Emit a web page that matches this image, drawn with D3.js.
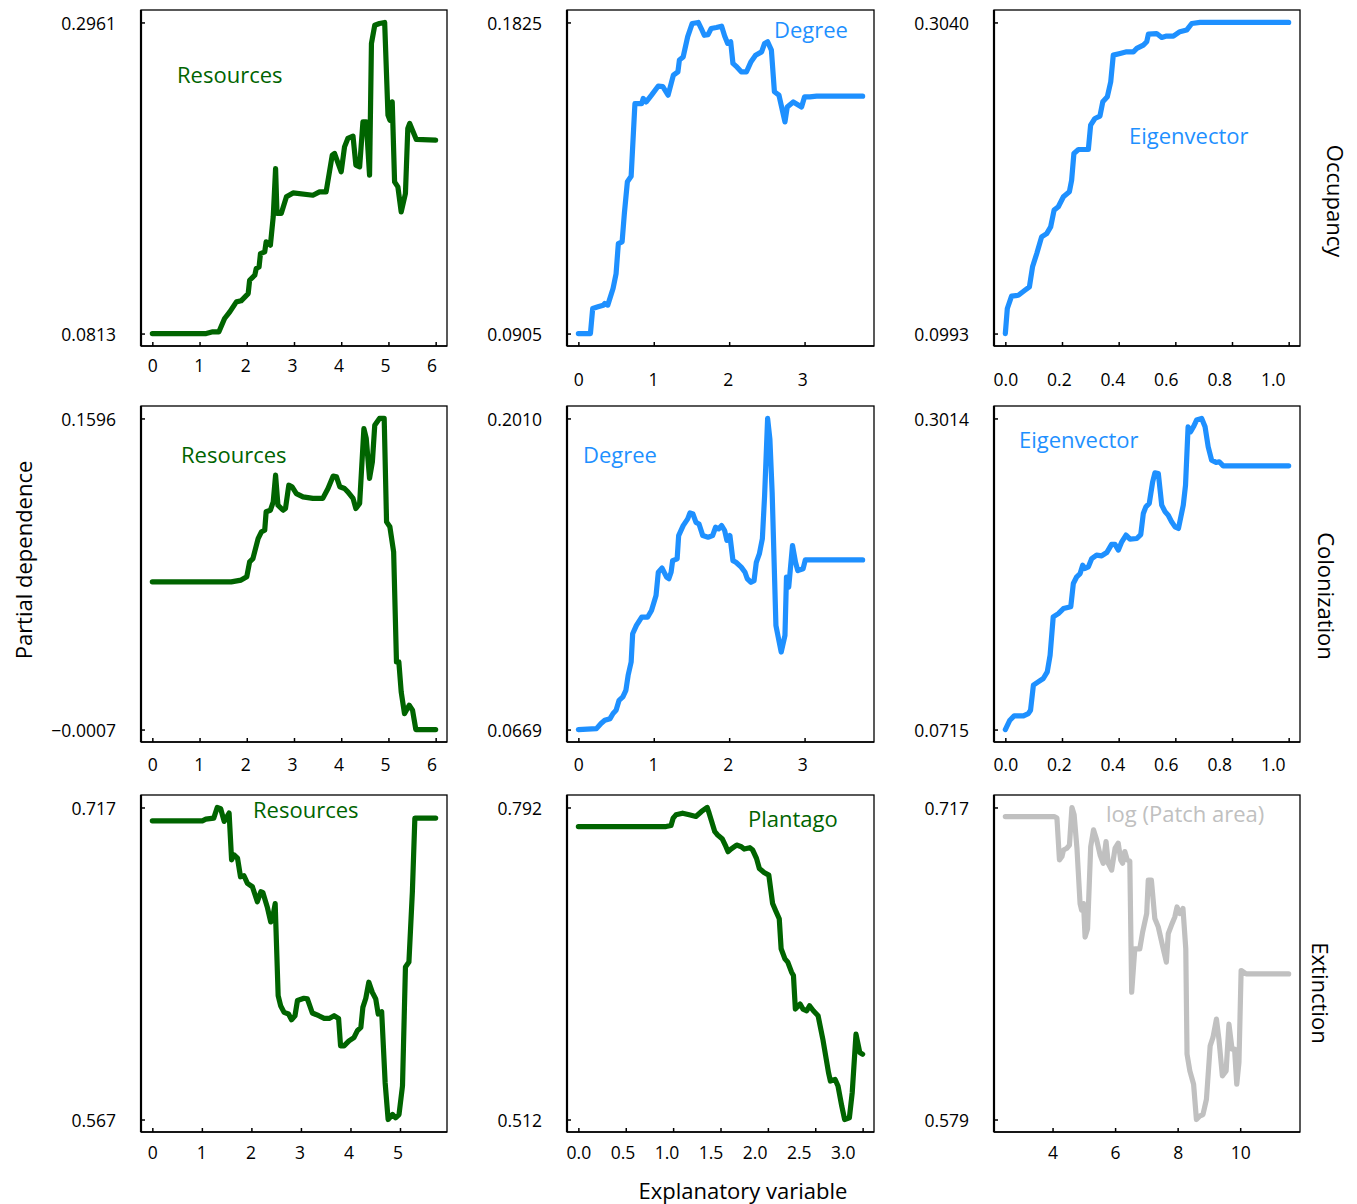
<!DOCTYPE html>
<html>
<head>
<meta charset="utf-8">
<script src="https://cdn.jsdelivr.net/npm/d3@7"></script>
<style>
  body { margin: 0; background: #fff; }
  svg { font-family: "Open Sans", sans-serif; }
</style>
</head>
<body>
<svg id="chart" width="1357" height="1204"></svg>
<script>
const green = "#006400", blue = "#1E90FF", grey = "#C0C0C0";

// --- Occupancy row ---
const occResources = [[0,0.0813],[1.14,0.0813],[1.28,0.0825],[1.41,0.0825],[1.53,0.0917],[1.64,0.0963],[1.78,0.1032],[1.88,0.1039],[2.03,0.1089],[2.06,0.1181],[2.17,0.1216],[2.20,0.1262],[2.26,0.1273],[2.29,0.1365],[2.38,0.1377],[2.41,0.1446],[2.50,0.1423],[2.56,0.1619],[2.61,0.1952],[2.64,0.1642],[2.73,0.1642],[2.84,0.1757],[2.98,0.1784],[3.40,0.1768],[3.54,0.1791],[3.68,0.1791],[3.81,0.2045],[3.86,0.2056],[4.00,0.1930],[4.07,0.2102],[4.14,0.2160],[4.25,0.2176],[4.31,0.1976],[4.39,0.1964],[4.46,0.2275],[4.53,0.2275],[4.60,0.1906],[4.64,0.2816],[4.71,0.2942],[4.81,0.2954],[4.92,0.2961],[4.99,0.2321],[5.03,0.2286],[5.08,0.2413],[5.13,0.1860],[5.20,0.1826],[5.27,0.1653],[5.36,0.1780],[5.41,0.2229],[5.45,0.2263],[5.59,0.2153],[6.00,0.2148]];
const occDegree = [[0,0.0905],[0.16,0.0905],[0.19,0.0979],[0.26,0.0984],[0.33,0.0989],[0.35,0.0994],[0.39,0.0989],[0.46,0.1038],[0.50,0.1082],[0.53,0.1171],[0.58,0.1176],[0.61,0.1260],[0.65,0.1354],[0.70,0.1370],[0.75,0.1585],[0.84,0.1585],[0.86,0.1600],[0.90,0.1590],[0.97,0.1610],[1.06,0.1637],[1.12,0.1635],[1.19,0.1610],[1.26,0.1669],[1.32,0.1679],[1.34,0.1714],[1.39,0.1723],[1.45,0.1783],[1.51,0.1822],[1.59,0.1825],[1.63,0.1807],[1.67,0.1787],[1.72,0.1789],[1.76,0.1807],[1.83,0.1810],[1.90,0.1814],[1.94,0.1785],[1.98,0.1763],[2.02,0.1768],[2.05,0.1704],[2.09,0.1696],[2.16,0.1679],[2.23,0.1679],[2.29,0.1709],[2.35,0.1728],[2.43,0.1738],[2.47,0.1763],[2.51,0.1768],[2.56,0.1743],[2.60,0.1620],[2.66,0.1610],[2.74,0.1531],[2.77,0.1575],[2.85,0.1590],[2.96,0.1575],[3.00,0.1605],[3.07,0.1605],[3.16,0.1607],[3.77,0.1607]];
const occEigen = [[0,0.0993],[0.007,0.1158],[0.022,0.1239],[0.046,0.1245],[0.069,0.1278],[0.085,0.1300],[0.096,0.1432],[0.111,0.1520],[0.128,0.1629],[0.146,0.1651],[0.160,0.1695],[0.172,0.1805],[0.187,0.1827],[0.205,0.1893],[0.226,0.1926],[0.234,0.2002],[0.242,0.2178],[0.258,0.2204],[0.293,0.2204],[0.301,0.2364],[0.316,0.2408],[0.334,0.2424],[0.344,0.2518],[0.360,0.2551],[0.372,0.2650],[0.381,0.2825],[0.405,0.2836],[0.428,0.2847],[0.452,0.2847],[0.464,0.2869],[0.487,0.2891],[0.499,0.2913],[0.505,0.2963],[0.534,0.2967],[0.552,0.2941],[0.569,0.2950],[0.593,0.2950],[0.616,0.2979],[0.640,0.2990],[0.658,0.3033],[0.687,0.3040],[1.0,0.3040]];

// --- Colonization row ---
const colResources = [[0,0.0754],[1.67,0.0754],[1.88,0.0763],[2.00,0.0780],[2.06,0.0857],[2.13,0.0874],[2.24,0.0977],[2.31,0.1012],[2.38,0.1020],[2.41,0.1115],[2.50,0.1123],[2.56,0.1166],[2.61,0.1304],[2.66,0.1149],[2.77,0.1123],[2.82,0.1132],[2.89,0.1252],[2.96,0.1244],[3.05,0.1209],[3.19,0.1192],[3.40,0.1184],[3.61,0.1184],[3.72,0.1235],[3.83,0.1299],[3.90,0.1295],[3.97,0.1244],[4.07,0.1235],[4.14,0.1218],[4.25,0.1184],[4.31,0.1132],[4.39,0.1158],[4.48,0.1544],[4.53,0.1493],[4.60,0.1287],[4.66,0.1373],[4.71,0.1561],[4.81,0.1596],[4.91,0.1596],[4.96,0.1063],[5.03,0.1038],[5.11,0.0909],[5.17,0.0342],[5.22,0.0342],[5.27,0.0187],[5.34,0.0075],[5.44,0.0118],[5.51,0.0093],[5.58,-0.0007],[6.0,-0.0007]];
const colDegree = [[0,0.0669],[0.24,0.0673],[0.30,0.0695],[0.35,0.0709],[0.42,0.0716],[0.46,0.0738],[0.50,0.0752],[0.54,0.0795],[0.59,0.0810],[0.63,0.0838],[0.66,0.0903],[0.70,0.0960],[0.72,0.1082],[0.77,0.1118],[0.84,0.1154],[0.92,0.1154],[0.97,0.1182],[1.03,0.1247],[1.06,0.1347],[1.11,0.1365],[1.17,0.1326],[1.20,0.1319],[1.23,0.1347],[1.25,0.1397],[1.31,0.1405],[1.33,0.1505],[1.39,0.1548],[1.45,0.1577],[1.48,0.1603],[1.52,0.1598],[1.56,0.1562],[1.60,0.1555],[1.65,0.1505],[1.72,0.1498],[1.78,0.1505],[1.82,0.1541],[1.86,0.1534],[1.90,0.1548],[1.94,0.1527],[1.97,0.1484],[2.01,0.1505],[2.05,0.1397],[2.09,0.1390],[2.16,0.1369],[2.21,0.1347],[2.24,0.1319],[2.29,0.1304],[2.33,0.1311],[2.36,0.1390],[2.40,0.1426],[2.44,0.1491],[2.47,0.1677],[2.51,0.2010],[2.54,0.1921],[2.57,0.1691],[2.62,0.1118],[2.69,0.1003],[2.74,0.1075],[2.76,0.1326],[2.79,0.1283],[2.84,0.1462],[2.88,0.1390],[2.91,0.1354],[2.98,0.1362],[3.01,0.1400],[3.24,0.1400],[3.77,0.1400]];
const colEigen = [[0,0.0715],[0.016,0.0784],[0.031,0.0816],[0.064,0.0816],[0.081,0.0833],[0.089,0.0858],[0.099,0.1043],[0.116,0.1067],[0.134,0.1092],[0.148,0.1141],[0.158,0.1264],[0.169,0.1548],[0.187,0.1572],[0.205,0.1609],[0.231,0.1622],[0.240,0.1794],[0.252,0.1844],[0.264,0.1868],[0.273,0.1930],[0.281,0.1905],[0.293,0.1917],[0.305,0.1979],[0.322,0.2004],[0.340,0.1999],[0.358,0.2023],[0.375,0.2083],[0.387,0.2083],[0.399,0.2041],[0.411,0.2102],[0.426,0.2152],[0.440,0.2122],[0.464,0.2127],[0.478,0.2156],[0.487,0.2312],[0.496,0.2361],[0.508,0.2386],[0.520,0.2546],[0.528,0.2612],[0.540,0.2607],[0.552,0.2373],[0.564,0.2324],[0.575,0.2299],[0.587,0.2250],[0.599,0.2213],[0.611,0.2201],[0.628,0.2373],[0.636,0.2521],[0.645,0.2952],[0.654,0.2915],[0.664,0.2952],[0.675,0.3002],[0.693,0.3014],[0.705,0.2952],[0.716,0.2804],[0.728,0.2706],[0.744,0.2689],[0.755,0.2694],[0.769,0.2664],[1.0,0.2664]];

// --- Extinction row ---
const extResources = [[0,0.7106],[1.01,0.7106],[1.08,0.7114],[1.24,0.7119],[1.31,0.7170],[1.38,0.7164],[1.45,0.7103],[1.49,0.7119],[1.55,0.7143],[1.60,0.6918],[1.65,0.6942],[1.72,0.6926],[1.78,0.6837],[1.85,0.6842],[1.92,0.6805],[2.02,0.6789],[2.12,0.6717],[2.19,0.6765],[2.23,0.6762],[2.32,0.6692],[2.39,0.6620],[2.42,0.6628],[2.48,0.6708],[2.54,0.6266],[2.59,0.6217],[2.66,0.6185],[2.75,0.6177],[2.81,0.6150],[2.88,0.6169],[2.93,0.6242],[3.06,0.6253],[3.13,0.6250],[3.23,0.6182],[3.36,0.6169],[3.47,0.6156],[3.57,0.6156],[3.67,0.6169],[3.76,0.6156],[3.80,0.6024],[3.87,0.6024],[3.97,0.6048],[4.07,0.6064],[4.14,0.6097],[4.21,0.6113],[4.25,0.6209],[4.31,0.6253],[4.37,0.6330],[4.44,0.6282],[4.51,0.6250],[4.56,0.6177],[4.63,0.6188],[4.70,0.5847],[4.76,0.5670],[4.85,0.5694],[4.91,0.5678],[4.98,0.5694],[5.05,0.5831],[5.11,0.6403],[5.18,0.6427],[5.25,0.6765],[5.30,0.7119],[5.72,0.7119]];
const extPlantago = [[0,0.7749],[0.925,0.7749],[0.978,0.7758],[1.00,0.7824],[1.03,0.7854],[1.10,0.7869],[1.17,0.7854],[1.24,0.7839],[1.30,0.7884],[1.36,0.7920],[1.38,0.7869],[1.44,0.7703],[1.47,0.7673],[1.52,0.7637],[1.55,0.7583],[1.58,0.7523],[1.61,0.7547],[1.67,0.7583],[1.72,0.7568],[1.75,0.7547],[1.81,0.7559],[1.84,0.7538],[1.88,0.7463],[1.91,0.7373],[1.96,0.7337],[2.01,0.7313],[2.05,0.7058],[2.08,0.6998],[2.12,0.6922],[2.14,0.6652],[2.18,0.6562],[2.21,0.6532],[2.25,0.6442],[2.27,0.6412],[2.29,0.6111],[2.34,0.6156],[2.37,0.6111],[2.41,0.6096],[2.44,0.6141],[2.48,0.6096],[2.53,0.6051],[2.58,0.5841],[2.64,0.5541],[2.66,0.5465],[2.71,0.5480],[2.74,0.5420],[2.78,0.5240],[2.81,0.5120],[2.86,0.5135],[2.89,0.5360],[2.93,0.5886],[2.97,0.5721],[3.0,0.5706]];
const extPatch = [[2.49,0.7130],[4.05,0.7130],[4.14,0.7123],[4.22,0.6938],[4.30,0.6953],[4.35,0.6982],[4.46,0.6990],[4.54,0.7004],[4.62,0.7170],[4.69,0.7138],[4.78,0.6990],[4.88,0.6745],[4.93,0.6716],[4.99,0.6745],[5.04,0.6597],[5.12,0.6634],[5.22,0.6997],[5.31,0.7071],[5.41,0.7027],[5.52,0.6960],[5.62,0.6923],[5.71,0.7019],[5.78,0.6923],[5.89,0.6893],[6.00,0.6990],[6.10,0.7012],[6.18,0.6938],[6.24,0.6923],[6.31,0.6975],[6.39,0.6938],[6.47,0.6933],[6.53,0.6353],[6.63,0.6545],[6.79,0.6545],[6.88,0.6619],[7.01,0.6701],[7.06,0.6849],[7.16,0.6849],[7.27,0.6679],[7.38,0.6642],[7.54,0.6545],[7.64,0.6486],[7.70,0.6612],[7.80,0.6649],[7.91,0.6686],[7.98,0.6730],[8.07,0.6701],[8.17,0.6723],[8.26,0.6545],[8.30,0.6079],[8.39,0.6005],[8.51,0.5946],[8.60,0.5790],[8.70,0.5805],[8.81,0.5812],[8.92,0.5879],[9.04,0.6116],[9.13,0.6153],[9.24,0.6234],[9.32,0.6145],[9.43,0.5983],[9.55,0.6005],[9.64,0.6212],[9.74,0.6101],[9.82,0.6101],[9.89,0.5946],[9.96,0.6042],[10.03,0.6449],[10.19,0.6434],[11.55,0.6434]];

// y tick values (min, max) per panel
const occResTicks = [0.0813, 0.2961], occDegTicks = [0.0905, 0.1825], occEigTicks = [0.0993, 0.3040];
const colResTicks = [-0.0007, 0.1596], colDegTicks = [0.0669, 0.2010], colEigTicks = [0.0715, 0.3014];
const extResTicks = [0.567, 0.717], extPlaTicks = [0.512, 0.792], extPatTicks = [0.579, 0.717];

// x tick values
const ticks0to6 = [0, 1, 2, 3, 4, 5, 6];
const ticks0to5 = [0, 1, 2, 3, 4, 5];
const ticks0to3 = [0, 1, 2, 3];
const ticksEigen = [0, 0.2, 0.4, 0.6, 0.8, 1.0];
const ticksPlantago = [0, 0.5, 1.0, 1.5, 2.0, 2.5, 3.0];
const ticksPatch = [4, 6, 8, 10];

const rowTitles = ["Occupancy", "Colonization", "Extinction"];

// panel frame positions
const cols = [[141, 447], [567, 874], [994, 1300]];
const rows = [[10, 346], [406, 742], [795, 1132]];

const panels = [
  {r:0, c:0, data:occResources, yt:occResTicks, yDec:4, xt:ticks0to6, xDec:0, color:green, name:"Resources", nx:177, ny:83, ldy:20, k:0.985},
  {r:0, c:1, data:occDegree, yt:occDegTicks, yDec:4, xt:ticks0to3, xDec:0, color:blue, name:"Degree", nx:774, ny:38, ldy:34, k:0.99},
  {r:0, c:2, data:occEigen, yt:occEigTicks, yDec:4, xt:ticksEigen, xDec:1, color:blue, name:"Eigenvector", nx:1129, ny:144, ldy:34, k:0.944},
  {r:1, c:0, data:colResources, yt:colResTicks, yDec:4, xt:ticks0to6, xDec:0, color:green, name:"Resources", nx:181, ny:463, ldy:23, k:0.985},
  {r:1, c:1, data:colDegree, yt:colDegTicks, yDec:4, xt:ticks0to3, xDec:0, color:blue, name:"Degree", nx:583, ny:463, ldy:23, k:0.99},
  {r:1, c:2, data:colEigen, yt:colEigTicks, yDec:4, xt:ticksEigen, xDec:1, color:blue, name:"Eigenvector", nx:1019, ny:448, ldy:23, k:0.944},
  {r:2, c:0, data:extResources, yt:extResTicks, yDec:3, xt:ticks0to5, xDec:0, color:green, name:"Resources", nx:253, ny:818, ldy:21, k:0.99},
  {r:2, c:1, data:extPlantago, yt:extPlaTicks, yDec:3, xt:ticksPlantago, xDec:1, color:green, name:"Plantago", nx:748, ny:827, ldy:21, k:0.93},
  {r:2, c:2, data:extPatch, yt:extPatTicks, yDec:3, xt:ticksPatch, xDec:0, color:grey, name:"log (Patch area)", nx:1106, ny:822, ldy:21, k:1}
];

const svg = d3.select("#chart");

panels.forEach(p => {
  const [x0, x1] = cols[p.c];
  const [y0, y1] = rows[p.r];

  // R-style 4% padding around the data range
  const xe = d3.extent(p.data, d => d[0]);
  const xpad = (xe[1] - xe[0]) * 0.04;
  const x = d3.scaleLinear().domain([xe[0] - xpad, xe[1] + xpad]).range([x0, x1]);
  const ypad = (p.yt[1] - p.yt[0]) * 0.04;
  const y = d3.scaleLinear().domain([p.yt[0] - ypad, p.yt[1] + ypad]).range([y1, y0]);

  const g = svg.append("g");

  g.append("rect")
    .attr("x", x0).attr("y", y0)
    .attr("width", x1 - x0).attr("height", y1 - y0)
    .attr("fill", "none").attr("stroke", "#000").attr("stroke-width", 1.3);

  // heavier left / bottom axis lines
  g.append("line").attr("x1", x0).attr("x2", x0).attr("y1", y0).attr("y2", y1)
    .attr("stroke", "#000").attr("stroke-width", 2.2);
  g.append("line").attr("x1", x0).attr("x2", x1).attr("y1", y1).attr("y2", y1)
    .attr("stroke", "#000").attr("stroke-width", 1.6);

  // x axis, ticks pointing inward
  const xa = g.append("g")
    .attr("transform", `translate(0,${y1})`)
    .call(d3.axisBottom(x).tickValues(p.xt).tickSize(-4).tickFormat(d3.format(`.${p.xDec}f`)))
    .attr("font-family", "'Open Sans', sans-serif")
    .attr("font-size", 17.5);
  xa.select(".domain").remove();
  xa.selectAll(".tick line").attr("stroke-width", 1.5);
  xa.selectAll(".tick text")
    .attr("fill", "#000")
    .attr("y", p.ldy)
    .attr("dy", "0.35em")
    .attr("x", d => (x(p.xt[0]) + (x(d) - x(p.xt[0])) * p.k) - x(d));

  // y axis: only min & max
  const ya = g.append("g")
    .attr("transform", `translate(${x0},0)`)
    .call(d3.axisLeft(y).tickValues(p.yt).tickSize(-4).tickPadding(25).tickFormat(d3.format(`.${p.yDec}f`)))
    .attr("font-family", "'Open Sans', sans-serif")
    .attr("font-size", 17.5);
  ya.select(".domain").remove();
  ya.selectAll(".tick line").attr("stroke-width", 1.5);
  ya.selectAll(".tick text").attr("fill", "#000").attr("dy", "0.42em");

  const line = d3.line().x(d => x(d[0])).y(d => y(d[1]));
  g.append("path")
    .datum(p.data)
    .attr("d", line)
    .attr("fill", "none")
    .attr("stroke", p.color)
    .attr("stroke-width", 5.2)
    .attr("stroke-linejoin", "round")
    .attr("stroke-linecap", "round");

  g.append("text")
    .attr("x", p.nx).attr("y", p.ny)
    .attr("fill", p.color)
    .attr("font-size", 22)
    .text(p.name);
});

// axis titles
svg.append("text")
  .attr("transform", "translate(32,560) rotate(-90)")
  .attr("text-anchor", "middle")
  .attr("font-size", 22)
  .text("Partial dependence");

svg.append("text")
  .attr("x", 743).attr("y", 1199)
  .attr("text-anchor", "middle")
  .attr("font-size", 22)
  .text("Explanatory variable");

const rowTitlePos = [[1327, 201], [1318, 596], [1312, 993]];
rowTitles.forEach((t, i) => {
  svg.append("text")
    .attr("transform", `translate(${rowTitlePos[i][0]},${rowTitlePos[i][1]}) rotate(90)`)
    .attr("text-anchor", "middle")
    .attr("font-size", 22)
    .text(t);
});
</script>
</body>
</html>
